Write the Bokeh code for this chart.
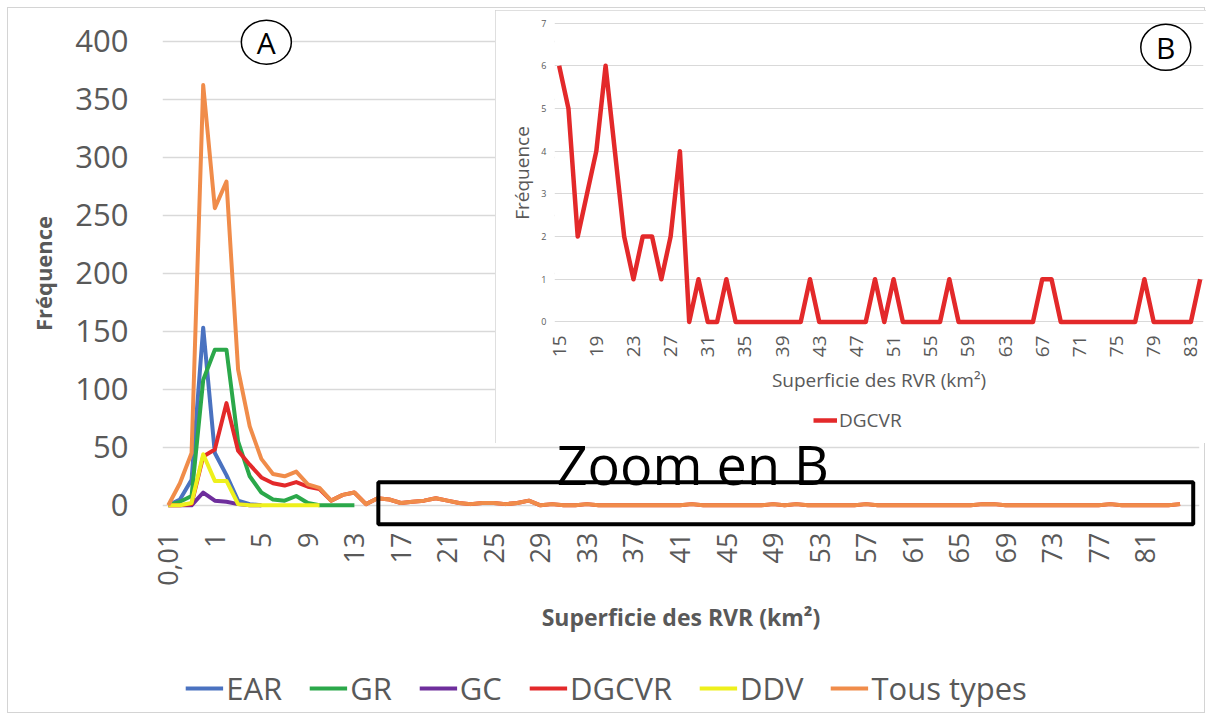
import math
from bokeh.plotting import figure
from bokeh.models import (Range1d, FixedTicker, Legend, LegendItem, Label,
                          BoxAnnotation)
from bokeh.embed import file_html
from bokeh.resources import INLINE

# ---------------- data ----------------
# classes of area (km2) in main chart A
small_classes = ["0,01", "0,25", "0,5", "0,75"]
integer_classes = [str(k) for k in range(1, 85)]
classes_main = small_classes + integer_classes

# frequencies by type (classes 0,01 ... as far as each type goes)
ear = [0, 5, 22, 153, 45, 26, 4, 1, 0]
gr = [0, 3, 8, 108, 134, 134, 55, 25, 11, 5, 4, 8, 2, 0, 0, 0, 0]
gc = [0, 0, 0, 11, 4, 3, 1, 0, 0]
ddv = [0, 0, 2, 44, 21, 21, 1, 0, 0, 0, 0, 0, 0, 0]
dgcvr_head = [0, 0, 1, 42, 48, 88, 47, 35, 24, 19, 17, 20, 16, 14, 4, 9, 11, 1]
tous_head = [0, 19, 45, 362, 256, 279, 117, 68, 40, 27, 25, 29, 18, 15, 4, 9, 11, 1]

# zoom B : classes 15 ... 84 km2 (only DGCVR present there)
zoom_classes = [str(k) for k in range(15, 85)]
dgcvr_zoom = [6, 5, 2, 3, 4, 6, 4, 2, 1, 2,
              2, 1, 2, 4, 0, 1, 0, 0, 1, 0,
              0, 0, 0, 0, 0, 0, 0, 1, 0, 0,
              0, 0, 0, 0, 1, 0, 1, 0, 0, 0,
              0, 0, 1, 0, 0, 0, 0, 0, 0, 0,
              0, 0, 1, 1, 0, 0, 0, 0, 0, 0,
              0, 0, 0, 1, 0, 0, 0, 0, 0, 1]

dgcvr_main = dgcvr_head + dgcvr_zoom
tous_main = tous_head + dgcvr_zoom

y_ticks_main = [0, 50, 100, 150, 200, 250, 300, 350, 400]
y_ticks_zoom = [0, 1, 2, 3, 4, 5, 6, 7]

series = [
    ("EAR", ear, "#4A72C0"),
    ("GR", gr, "#2BA84A"),
    ("GC", gc, "#6E2E9C"),
    ("DGCVR", dgcvr_main, "#E3292A"),
    ("DDV", ddv, "#EEF01C"),
    ("Tous types", tous_main, "#F08C4A"),
]

FONT = "Open Sans"
GREY = "#595959"
GRID = "#d9d9d9"


def legend_strip(w, h, margin):
    # bare figure carrying only a legend; ranges are away from the data so the
    # series copies are not drawn, only their legend swatches
    f = figure(width=w, height=h, output_backend="svg", toolbar_location=None,
               x_axis_type=None, y_axis_type=None,
               x_range=Range1d(-1000, -999), y_range=Range1d(-1000, -999),
               min_border=0, margin=margin)
    f.outline_line_color = None
    f.background_fill_color = None
    f.border_fill_color = None
    f.grid.visible = False
    return f


# ---------------- main chart A ----------------
p = figure(width=1196, height=704, output_backend="svg", toolbar_location=None,
           x_range=Range1d(-0.5, 88.67), y_range=Range1d(-20, 419.4),
           min_border_left=154, min_border_right=5, min_border_top=10,
           min_border_bottom=184, margin=(8, 8, 0, 8))
p.styles = {"outline": "1px solid #d4d4d4"}
p.outline_line_color = None
p.background_fill_color = "white"
p.border_fill_color = "white"
p.xgrid.visible = False
p.ygrid.ticker = FixedTicker(ticks=y_ticks_main)
p.ygrid.grid_line_color = GRID
p.ygrid.grid_line_width = 1.3

ya = p.yaxis[0]
ya.ticker = FixedTicker(ticks=y_ticks_main)
ya.axis_line_color = None
ya.major_tick_line_color = None
ya.minor_tick_line_color = None
ya.major_tick_out = 0
ya.major_tick_in = 0
ya.major_label_standoff = 34
ya.major_label_text_font = FONT
ya.major_label_text_font_size = "31px"
ya.major_label_text_color = GREY
ya.axis_label = "Fréquence"
ya.axis_label_text_font = FONT
ya.axis_label_text_font_size = "22px"
ya.axis_label_text_font_style = "bold"
ya.axis_label_text_color = GREY
ya.axis_label_standoff = 14

xa = p.xaxis[0]
xt = list(range(0, len(classes_main), 4))
xa.ticker = FixedTicker(ticks=xt)
xa.major_label_overrides = {i: classes_main[i] for i in xt}
xa.major_label_orientation = math.pi / 2
xa.axis_line_color = None
xa.major_tick_line_color = None
xa.minor_tick_line_color = None
xa.major_tick_out = 0
xa.major_tick_in = 0
xa.major_label_standoff = 4
xa.major_label_text_font = FONT
xa.major_label_text_font_size = "27px"
xa.major_label_text_color = GREY
xa.axis_label = "Superficie des RVR (km²)"
xa.axis_label_text_font = FONT
xa.axis_label_text_font_size = "23px"
xa.axis_label_text_font_style = "bold"
xa.axis_label_text_color = GREY
xa.axis_label_standoff = 12

for name, vals, col in series:
    p.line(x=list(range(len(vals))), y=vals, line_color=col, line_width=4,
           line_join="round")

p.add_layout(BoxAnnotation(left=18.06, right=88.13, bottom=-16.4, top=19.8,
                           fill_alpha=0, line_color="black", line_alpha=1,
                           line_width=4))
p.add_layout(Label(x=45.1, y=35.5, text="Zoom en B", text_align="center",
                   text_baseline="middle", text_font=FONT, text_font_size="54px",
                   text_color="black"))
p.ellipse(x=[8.43], y=[399], width=50, height=44, width_units="screen",
          height_units="screen", fill_color="white", line_color="black",
          line_width=1.5)
p.add_layout(Label(x=8.43, y=399, text="A", text_align="center",
                   text_baseline="middle", text_font=FONT, text_font_size="30px",
                   text_color="black"))

# ---------------- inset B (separate root, pulled up over chart A) ----------------
q = figure(width=711, height=433, output_backend="svg", toolbar_location=None,
           x_range=Range1d(-0.5, 69.36), y_range=Range1d(-0.13, 7.106),
           min_border_left=59, min_border_right=3, min_border_top=8,
           min_border_bottom=116, margin=(-702, 0, 0, 495))
q.styles = {"outline": "1px solid #d4d4d4", "outline-offset": "-1px"}
q.outline_line_color = None
q.background_fill_color = "white"
q.border_fill_color = "white"
q.xgrid.visible = False
q.ygrid.ticker = FixedTicker(ticks=y_ticks_zoom)
q.ygrid.grid_line_color = GRID
q.ygrid.grid_line_width = 1

qy = q.yaxis[0]
qy.ticker = FixedTicker(ticks=y_ticks_zoom)
qy.axis_line_color = None
qy.major_tick_line_color = None
qy.minor_tick_line_color = None
qy.major_tick_out = 0
qy.major_tick_in = 0
qy.major_label_standoff = 8
qy.major_label_text_font = FONT
qy.major_label_text_font_size = "9px"
qy.major_label_text_color = GREY
qy.axis_label = "Fréquence"
qy.axis_label_text_font = FONT
qy.axis_label_text_font_size = "19px"
qy.axis_label_text_font_style = "normal"
qy.axis_label_text_color = GREY
qy.axis_label_standoff = 3

qx = q.xaxis[0]
qt = list(range(0, len(zoom_classes), 4))
qx.ticker = FixedTicker(ticks=qt)
qx.major_label_overrides = {i: zoom_classes[i] for i in qt}
qx.major_label_orientation = math.pi / 2
qx.axis_line_color = None
qx.major_tick_line_color = None
qx.minor_tick_line_color = None
qx.major_tick_out = 0
qx.major_tick_in = 0
qx.major_label_standoff = 8
qx.major_label_text_font = FONT
qx.major_label_text_font_size = "19px"
qx.major_label_text_color = GREY
qx.axis_label = "Superficie des RVR (km²)"
qx.axis_label_text_font = FONT
qx.axis_label_text_font_size = "19px"
qx.axis_label_text_font_style = "normal"
qx.axis_label_text_color = GREY
qx.axis_label_standoff = 7

q.line(x=list(range(len(dgcvr_zoom))), y=dgcvr_zoom, line_color="#E3292A",
       line_width=4.5, line_join="round")

q.ellipse(x=[65.3], y=[6.43], width=50, height=46, width_units="screen",
          height_units="screen", fill_color="white", line_color="black",
          line_width=1.5)
q.add_layout(Label(x=65.3, y=6.43, text="B", text_align="center",
                   text_baseline="middle", text_font=FONT, text_font_size="30px",
                   text_color="black"))

# ---------------- legend of inset B ----------------
lq = legend_strip(711, 28, margin=(-37, 0, 0, 495))
rz = lq.line(x=list(range(len(dgcvr_zoom))), y=dgcvr_zoom, line_color="#E3292A",
             line_width=4.5)
lq.add_layout(Legend(items=[LegendItem(label="DGCVR", renderers=[rz])],
                     orientation="horizontal", location=(318, 1),
                     border_line_color=None, background_fill_alpha=0, padding=0,
                     margin=0, glyph_width=24, glyph_height=18, label_standoff=2,
                     label_text_font=FONT, label_text_font_size="19px",
                     label_text_color=GREY))

# ---------------- legend of chart A ----------------
lf = legend_strip(1196, 46, margin=(231, 0, 0, 8))
items = []
for name, vals, col in series:
    r = lf.line(x=list(range(len(vals))), y=vals, line_color=col, line_width=4)
    items.append(LegendItem(label=name, renderers=[r]))
lf.add_layout(Legend(items=items, orientation="horizontal", location="center",
                     border_line_color=None, background_fill_alpha=0, padding=0,
                     margin=0, spacing=27, glyph_width=38, glyph_height=22,
                     label_standoff=3, label_text_font=FONT,
                     label_text_font_size="31px", label_text_color=GREY))

# independent roots: no frame alignment between them, stacked with margins
open("out.html", "w").write(file_html([p, q, lq, lf], INLINE))
